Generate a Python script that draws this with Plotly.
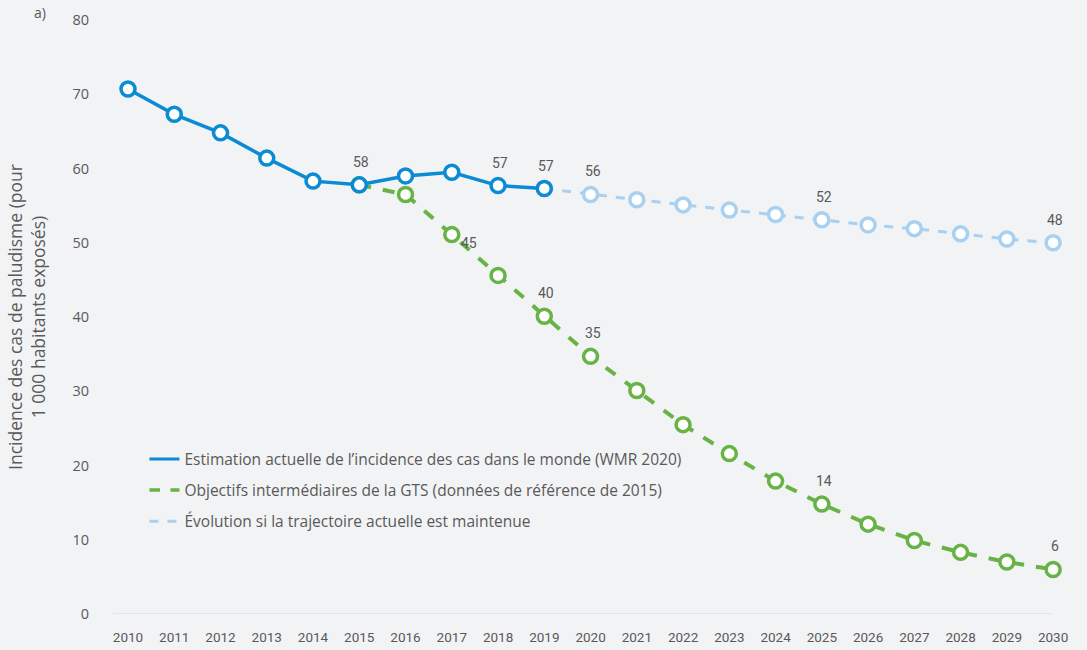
import plotly.graph_objects as go

years_actual = [2010, 2011, 2012, 2013, 2014, 2015, 2016, 2017, 2018, 2019]
actual = [70.7, 67.3, 64.8, 61.4, 58.3, 57.8, 59.0, 59.5, 57.7, 57.3]

years_gts = list(range(2015, 2031))
gts = [57.8, 56.5, 51.1, 45.6, 40.1, 34.7, 30.1, 25.5, 21.6, 17.9, 14.8, 12.1, 9.9, 8.3, 7.0, 6.0]

years_trend = list(range(2019, 2031))
trend = [57.3, 56.5, 55.8, 55.1, 54.4, 53.8, 53.1, 52.4, 51.9, 51.2, 50.5, 50.0]

# data labels: (year, value, text)
labels_actual = [(2015, 57.8, "58"), (2018, 57.7, "57"), (2019, 57.3, "57")]
labels_gts = [(2018, 45.6, "45"), (2019, 40.1, "40"), (2020, 34.7, "35"), (2025, 14.8, "14"), (2030, 6.0, "6")]
labels_trend = [(2020, 56.5, "56"), (2025, 53.1, "52"), (2030, 50.0, "48")]

names = [
    "Estimation actuelle de l\u2019incidence des cas dans le monde (WMR 2020)",
    "Objectifs interm\u00e9diaires de la GTS (donn\u00e9es de r\u00e9f\u00e9rence de 2015)",
    "\u00c9volution si la trajectoire actuelle est maintenue",
]

BLUE = "#0a8bd3"
GREEN = "#67b346"
LIGHT = "#a8d0f0"
TXT = "#595959"
BG = "#f2f3f5"
FONT = "Open Sans"

fig = go.Figure()
fig.add_trace(go.Scatter(
    x=years_trend, y=trend, mode="lines+markers", showlegend=False,
    line=dict(color=LIGHT, width=3, dash="dash"),
    marker=dict(symbol="circle", size=14, color="white", line=dict(color=LIGHT, width=3.5)),
))
fig.add_trace(go.Scatter(
    x=years_gts, y=gts, mode="lines+markers", showlegend=False,
    line=dict(color=GREEN, width=4, dash="dash"),
    marker=dict(symbol="circle", size=14, color="white", line=dict(color=GREEN, width=3.5)),
))
fig.add_trace(go.Scatter(
    x=years_actual, y=actual, mode="lines+markers", showlegend=False,
    line=dict(color=BLUE, width=3.5),
    marker=dict(symbol="circle", size=14, color="white", line=dict(color=BLUE, width=3.5)),
))
# legend-only entries (line samples without markers)
for nm, col, dash, w in ((names[0], BLUE, "solid", 3), (names[1], GREEN, "dash", 3.5), (names[2], LIGHT, "dash", 3)):
    fig.add_trace(go.Scatter(x=[None], y=[None], mode="lines", name=nm, legendgroup=nm,
                             line=dict(color=col, width=w, dash=dash)))

for lst in (labels_actual, labels_gts, labels_trend):
    for (x, y, t) in lst:
        xs = -29 if (x == 2018 and t == "45") else 2
        ys = 32 if (x == 2018 and t == "45") else 23
        fig.add_annotation(x=x, y=y, text=t, showarrow=False, xshift=xs, yshift=ys,
                           font=dict(family="Roboto", size=14, color=TXT))

fig.add_annotation(xref="paper", yref="paper", x=-0.082, y=1.0, text="a)", showarrow=False,
                   xanchor="left", yanchor="bottom", yshift=-4,
                   font=dict(family=FONT, size=14, color=TXT))

fig.update_layout(
    width=1087, height=650,
    paper_bgcolor=BG, plot_bgcolor=BG,
    margin=dict(l=110, r=20, t=20, b=36),
    showlegend=True,
    legend=dict(x=0.036, y=0.289, xanchor="left", yanchor="top", bgcolor="rgba(0,0,0,0)",
                font=dict(family=FONT, size=15.5, color=TXT), tracegroupgap=8,
                itemwidth=30),
    font=dict(family=FONT, color=TXT),
)
fig.update_xaxes(range=[2009.611, 2030.30], tickmode="linear", dtick=1, tick0=2010,
                 showgrid=False, zeroline=False, showline=False, automargin=False,
                 tickfont=dict(family="Roboto", size=13.5, color=TXT), ticks="", ticklabelstandoff=13)
fig.update_yaxes(range=[0, 80], dtick=10, showgrid=False, zeroline=False, showline=False,
                 automargin=False,
                 tickfont=dict(family=FONT, size=14.5, color=TXT), ticks="", ticklabelstandoff=20,
                 title=dict(text="Incidence des cas de paludisme (pour<br>1 000 habitants expos\u00e9s)",
                            font=dict(family=FONT, size=17.5, color=TXT), standoff=22))
fig.add_shape(type="line", xref="x", yref="y", x0=2009.67, x1=2030, y0=0, y1=0,
              line=dict(color="#dfe1e5", width=1.5), layer="below")

fig.write_html("out.html", config={"displayModeBar": False},
               post_script="document.body.style.margin='0';document.body.style.background='%s';" % BG)
